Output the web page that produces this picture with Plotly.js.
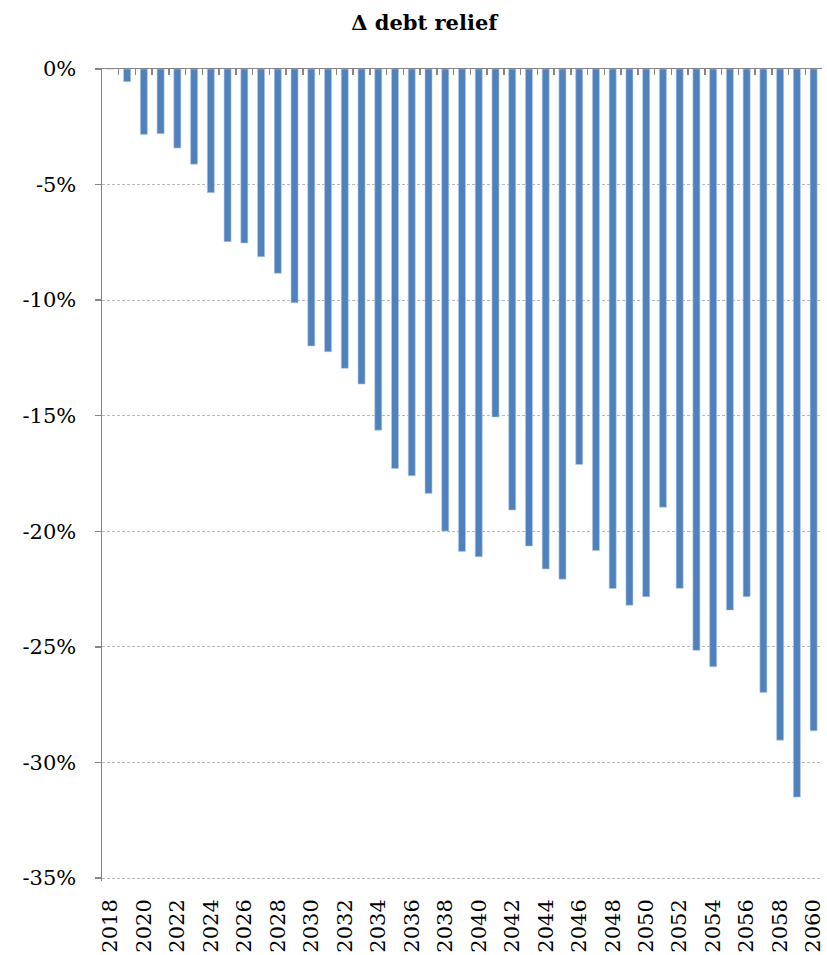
<!DOCTYPE html>
<html>
<head>
<meta charset="utf-8">
<script src="https://cdn.plot.ly/plotly-3.0.1.min.js"></script>
<style>html,body{margin:0;padding:0;background:#fff;}#chart{width:827px;height:955px;}</style>
</head>
<body>
<div id="chart"></div>
<script>
const years = ['2018','2019','2020','2021','2022','2023','2024','2025','2026','2027','2028','2029','2030','2031','2032','2033','2034','2035','2036','2037','2038','2039','2040','2041','2042','2043','2044','2045','2046','2047','2048','2049','2050','2051','2052','2053','2054','2055','2056','2057','2058','2059','2060'];
const debtReliefDelta = [0, -0.55, -2.83, -2.80, -3.42, -4.12, -5.35, -7.47, -7.53, -8.12, -8.84, -10.11, -11.98, -12.23, -12.95, -13.63, -15.63, -17.28, -17.60, -18.36, -19.99, -20.88, -21.10, -15.06, -19.08, -20.64, -21.63, -22.07, -17.11, -20.83, -22.48, -23.20, -22.83, -18.96, -22.47, -25.15, -25.86, -23.41, -22.83, -26.97, -29.04, -31.50, -28.63];
const yTickVals = [0, -5, -10, -15, -20, -25, -30, -35];
const yTickText = ['0%', '-5%', '-10%', '-15%', '-20%', '-25%', '-30%', '-35%'];

const axisColor = '#868686';
const yFont = {family: 'DejaVu Serif', size: 21, color: '#000'};
const xFont = {family: 'DejaVu Serif', size: 21, color: '#000'};
const nCat = years.length;

const data = [
  {
    type: 'bar', x: years, y: debtReliefDelta, xaxis: 'x', yaxis: 'y',
    marker: {color: '#4f81bd', line: {color: '#b9cbe4', width: 0.6}},
    hoverinfo: 'x+y'
  },
  {
    type: 'scatter', mode: 'markers', x: years, y: debtReliefDelta, xaxis: 'x2', yaxis: 'y',
    marker: {opacity: 0}, hoverinfo: 'skip', showlegend: false
  }
];

const layout = {
  width: 827, height: 955,
  margin: {l: 102, r: 5, t: 69, b: 74},
  paper_bgcolor: '#fff', plot_bgcolor: '#fff',
  showlegend: false,
  bargap: 0.58,
  font: yFont,
  title: {
    text: 'Δ debt relief',
    font: {family: 'DejaVu Serif', size: 21, color: '#000', weight: 'bold'},
    x: 0.513, xref: 'container', xanchor: 'center',
    y: 0.976, yref: 'container', yanchor: 'middle'
  },
  xaxis: {
    type: 'category', range: [-0.5, nCat - 0.5], autorange: false,
    tickmode: 'linear', tick0: 0, dtick: 2,
    tickangle: -90, showgrid: false, showline: false, ticks: '',
    zeroline: false, tickfont: xFont, ticklabelstandoff: 13
  },
  xaxis2: {
    type: 'category', overlaying: 'x', anchor: 'y', side: 'top',
    range: [-0.5, nCat - 0.5], autorange: false,
    showline: true, linecolor: axisColor, linewidth: 1.5,
    ticks: 'inside', tickson: 'boundaries', ticklen: 6, tickwidth: 1.5, tickcolor: axisColor,
    showticklabels: false, showgrid: false, zeroline: false
  },
  yaxis: {
    range: [-35.13, 0], autorange: false, tickmode: 'array', tickvals: yTickVals, ticktext: yTickText,
    showline: true, linecolor: axisColor, linewidth: 1.5,
    ticks: 'outside', ticklen: 6, tickwidth: 1.5, tickcolor: axisColor,
    showgrid: true, gridcolor: '#b8b8b8', gridwidth: 1, griddash: '3px,2px',
    zeroline: false, tickfont: yFont, ticklabelstandoff: 14
  }
};

Plotly.newPlot('chart', data, layout, {displayModeBar: false, staticPlot: true});
</script>
</body>
</html>
